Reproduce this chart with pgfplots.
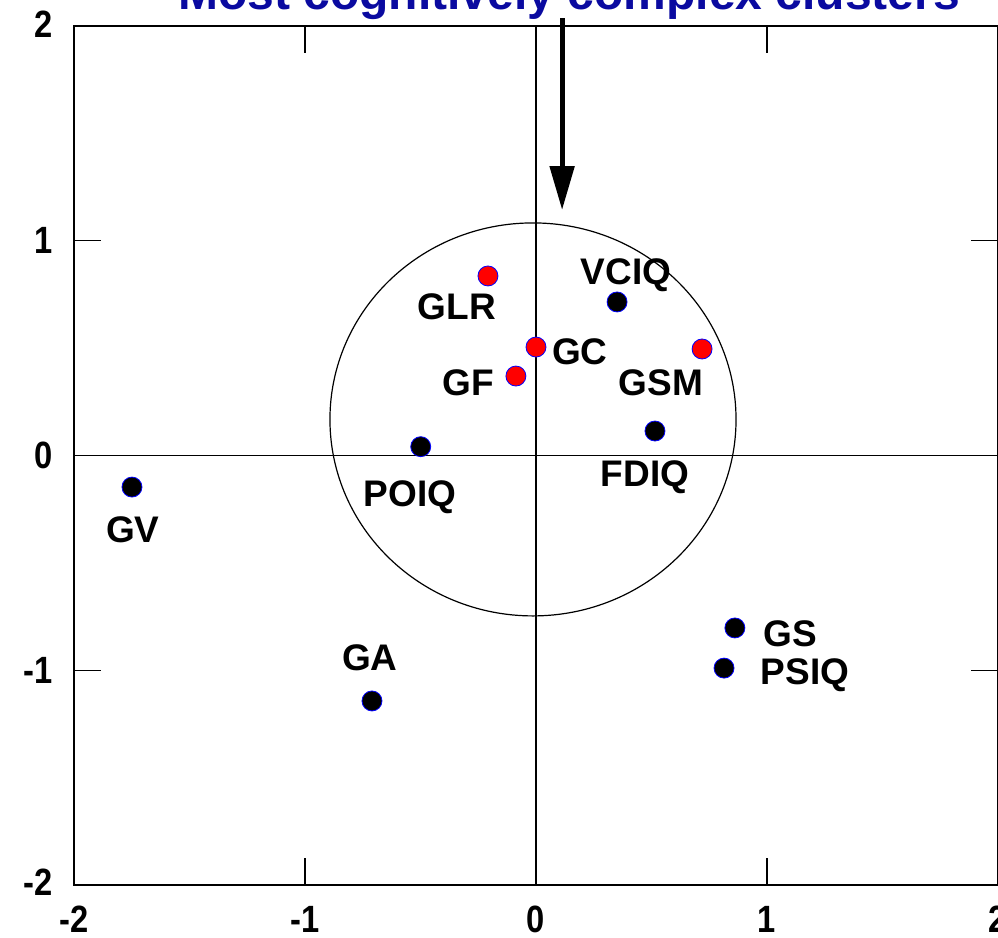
\documentclass[border=0pt]{standalone}
\usepackage{fontspec}
\setmainfont{Liberation Sans}
\usepackage{graphicx}
\usepackage{pgfplots}
\pgfplotsset{compat=1.18}
\usetikzlibrary{arrows.meta}
\definecolor{titleblue}{RGB}{10,10,160}
\newcommand\tl[1]{\scalebox{0.86}[1]{#1}}
\begin{document}
\begin{tikzpicture}
\useasboundingbox (-37pt,-26.5pt) rectangle (462pt,442.5pt);
\clip (-37pt,-26.5pt) rectangle (462pt,442.5pt);
\begin{axis}[
  at={(0,0)}, anchor=south west,
  scale only axis, width=462pt, height=429.5pt,
  xmin=-2, xmax=2, ymin=-2, ymax=2,
  clip=false,
  axis line style={line width=0.8pt},
  xtick={-2,-1,0,1,2}, ytick={-2,-1,0,1,2},
  xticklabels={\tl{-2},\tl{-1},\tl{0},\tl{1},\tl{2}},
  yticklabels={{\raisebox{2.5pt}{\tl{-2}}},\tl{-1},\tl{0},\tl{1},{\raisebox{2pt}{\tl{2}}}},
  tick align=inside, tick pos=both,
  xticklabel pos=bottom, yticklabel pos=left,
  major tick length=13.5pt,
  tick style={line width=0.6pt, black},
  ticklabel style={font=\fontsize{19}{21}\selectfont\bfseries},
  yticklabel style={xshift=-7pt},
  xticklabel style={yshift=-7pt},
]
% zero lines
\draw[line width=0.6pt] (axis cs:0,-2) -- (axis cs:0,2);
\draw[line width=0.6pt] (axis cs:-2,0) -- (axis cs:2,0);
% circle
\draw[line width=0.6pt] (axis cs:-0.013,0.168) ellipse [x radius=0.879, y radius=0.915];
% red points
\addplot[only marks, mark=*, mark size=5pt, mark options={fill=red, draw=blue, line width=0.4pt}]
coordinates {(-0.208,0.836) (0,0.505) (-0.087,0.370) (0.719,0.496)};
% black points
\addplot[only marks, mark=*, mark size=5pt, mark options={fill=black, draw=blue, line width=0.4pt}]
coordinates {(0.351,0.715) (0.515,0.114) (-0.499,0.041) (-1.749,-0.147) (-0.710,-1.143) (0.861,-0.803) (0.814,-0.990)};
% labels
\begin{scope}[every node/.style={font=\fontsize{18.5}{20}\selectfont\bfseries, inner sep=0pt}]
\node at (axis cs:-0.342,0.692) {GLR};
\node at (axis cs:0.39,0.841) {VCIQ};
\node at (axis cs:0.19,0.482) {GC};
\node at (axis cs:-0.294,0.338) {GF};
\node at (axis cs:0.541,0.338) {GSM};
\node at (axis cs:0.472,-0.100) {FDIQ};
\node at (axis cs:-0.545,-0.193) {POIQ};
\node at (axis cs:-1.745,-0.347) {GV};
\node at (axis cs:-0.719,-0.943) {GA};
\node at (axis cs:1.100,-0.831) {GS};
\node at (axis cs:1.165,-1.022) {PSIQ};
\end{scope}
% arrow
\draw[line width=2.6pt, -{Triangle[width=12pt,length=22pt]}] (axis cs:0.113,2.035) -- (axis cs:0.113,1.143);
% title
\node[anchor=base west, inner sep=0pt, text=titleblue, font=\fontsize{24}{28}\selectfont\bfseries] at (axis cs:-1.55,2.079) {Most cognitively complex clusters};
\end{axis}
\end{tikzpicture}
\end{document}
